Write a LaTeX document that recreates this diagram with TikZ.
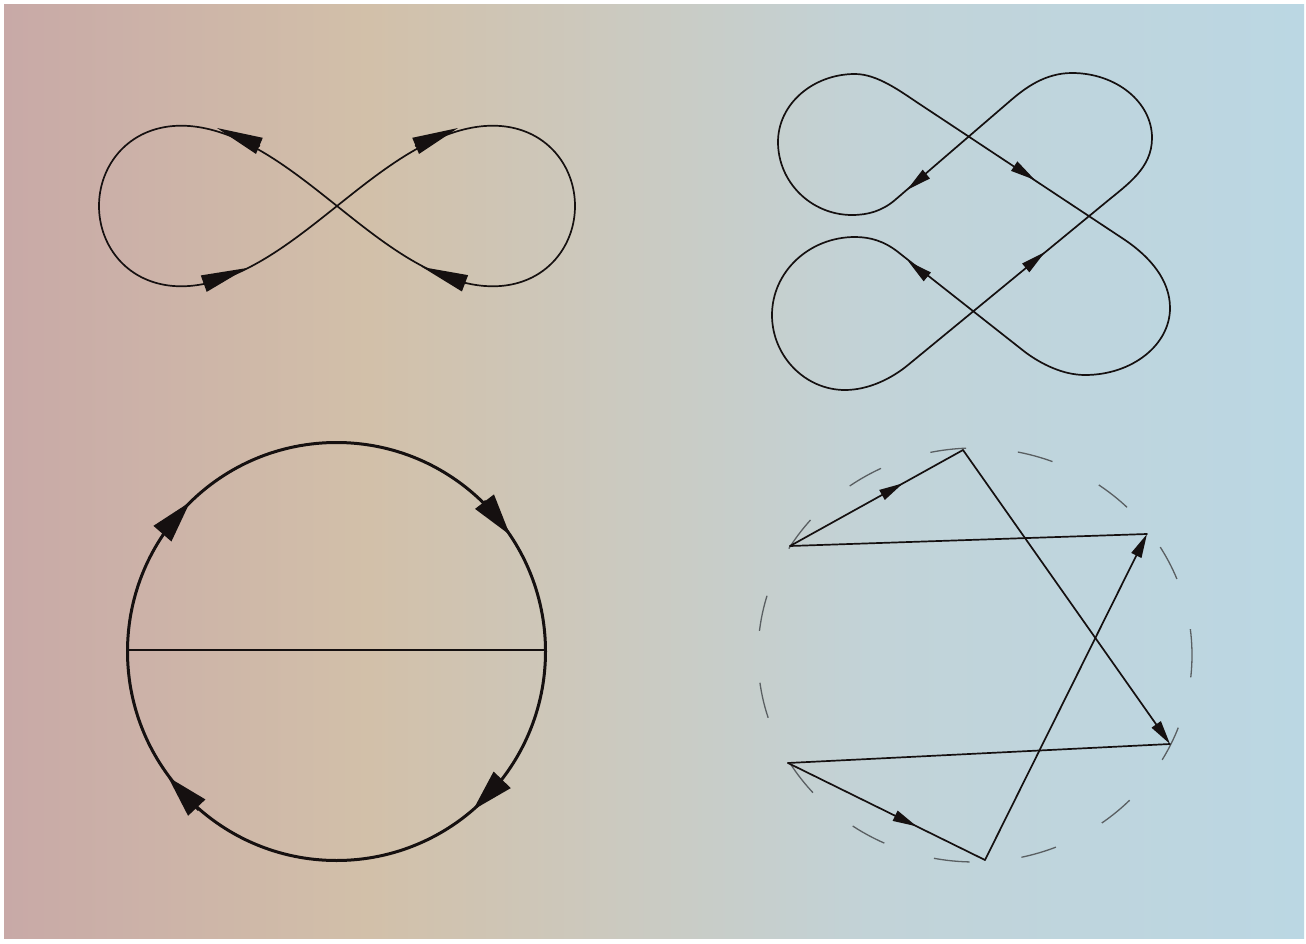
\documentclass[tikz,border=0pt]{standalone}
\usetikzlibrary{arrows.meta,decorations.markings}
\definecolor{bgA}{HTML}{C8A9A7}
\definecolor{bgB}{HTML}{D2C0A9}
\definecolor{bgC}{HTML}{CCC9BE}
\definecolor{bgD}{HTML}{C2D3D8}
\definecolor{bgE}{HTML}{BBD7E3}
\definecolor{ink}{HTML}{151010}
\definecolor{dashgray}{HTML}{5A5F62}
\pgfdeclarehorizontalshading{bgshade}{100bp}{color(0bp)=(bgA); color(25bp)=(bgA); color(39bp)=(bgB); color(48bp)=(bgC); color(58.5bp)=(bgD); color(75bp)=(bgE); color(100bp)=(bgE)}
\begin{document}
\begin{tikzpicture}[x=1pt,y=-1pt,
  curve/.style={draw=ink, line width=1.7pt, line join=round},
  wedgeL/.style={-{Triangle[length=46pt,width=17pt]}, draw=ink, fill=ink, line width=1.7pt},
  wedgeA/.style={-{Triangle[length=25pt,width=11pt]}, draw=ink, fill=ink, line width=1.6pt},
  bigtri/.style={-{Triangle[length=42pt,width=23pt]}, draw=ink, fill=ink, line width=3pt},
  polyline/.style={draw=ink, line width=1.7pt, line cap=round},
  endarr/.style={polyline, -{Triangle[length=24pt,width=11pt]}},
  midarr/.style={polyline, postaction={decorate}, decoration={markings, mark=at position 0.653 with {\arrow[ink]{Triangle[length=24pt,width=11pt]}}}}
]
\useasboundingbox (0,0) rectangle (1306,944);
\fill[white] (0,0) rectangle (1306,944);
\shade[shading=bgshade] (4,5) rectangle (1304,938);

% ---------- Figure 1: figure-eight ----------
\draw[curve]
  plot[domain=0:360, samples=361, variable=\t]
  ({337+238*cos(\t)/(1+0.4*sin(\t)*sin(\t))}, {206+190*sin(\t)*cos(\t)/(1+0.4*sin(\t)*sin(\t))});
\coordinate (e1b) at (259.9,146.1); \coordinate (e1t) at (217,128);
\coordinate (e2b) at (203.3,283.8); \coordinate (e2t) at (247,268);
\coordinate (e3b) at (415.1,146.1); \coordinate (e3t) at (458,128);
\coordinate (e4b) at (465.5,283.5); \coordinate (e4t) at (422,267);
\draw[wedgeL] (e1b) -- (e1t);
\draw[wedgeL] (e2b) -- (e2t);
\draw[wedgeL] (e3b) -- (e3t);
\draw[wedgeL] (e4b) -- (e4t);

% ---------- Figure 2: four-lobed closed curve ----------
\coordinate (p1) at (918,103);  \coordinate (p2) at (1125,240);
\coordinate (p3) at (1025,352); \coordinate (p4) at (898,252);
\coordinate (p5) at (908,365);  \coordinate (p6) at (1105,203);
\coordinate (p7) at (1010,101); \coordinate (p8) at (895,200);
\draw[curve]
  (p1) -- (p2)
  .. controls (1150,257) and (1170,280) .. (1170,308)
  .. controls (1170,345) and (1132,375) .. (1085,375)
  .. controls (1063,375) and (1041,364) .. (p3)
  -- (p4)
  .. controls (884,241) and (870,237) .. (855,237)
  .. controls (809,237) and (772,272) .. (772,315)
  .. controls (772,356) and (805,390) .. (845,390)
  .. controls (868,390) and (891,379) .. (p5)
  -- (p6)
  .. controls (1128,184) and (1152,168) .. (1152,138)
  .. controls (1152,102) and (1116,73) .. (1072,73)
  .. controls (1045,73) and (1025,88) .. (p7)
  -- (p8)
  .. controls (882,211) and (868,215) .. (852,215)
  .. controls (811,215) and (778,182) .. (778,142)
  .. controls (778,104) and (813,74) .. (855,74)
  .. controls (877,74) and (900,91) .. (p1) -- cycle;
\coordinate (s1b) at (1017,168); \coordinate (s1t) at (1035,180);
\coordinate (s2b) at (924,176);  \coordinate (s2t) at (907,190);
\coordinate (s3b) at (925,275);  \coordinate (s3t) at (908,261);
\coordinate (s4b) at (1028,266); \coordinate (s4t) at (1045,252);
\draw[wedgeA] (s1b) -- (s1t);
\draw[wedgeA] (s2b) -- (s2t);
\draw[wedgeA] (s3b) -- (s3t);
\draw[wedgeA] (s4b) -- (s4t);

% ---------- Figure 3: circle with diameter ----------
\coordinate (c3) at (336.5,651.5);
\coordinate (c3l) at (127.5,650);
\coordinate (c3r) at (545.5,650);
\draw[draw=ink, line width=3pt] (c3) circle[radius=209pt];
\draw[draw=ink, line width=1.1pt] (c3l) -- (c3r);
\coordinate (a1b) at (163,533); \coordinate (a1t) at (190,502);
\coordinate (a2b) at (484,501); \coordinate (a2t) at (510,535);
\coordinate (a3b) at (502,780); \coordinate (a3t) at (473,810);
\coordinate (a4b) at (199,810); \coordinate (a4t) at (168,777);
\draw[bigtri] (a1b) -- (a1t);
\draw[bigtri] (a2b) -- (a2t);
\draw[bigtri] (a3b) -- (a3t);
\draw[bigtri] (a4b) -- (a4t);

% ---------- Figure 4: star polygon in dashed circle ----------
\draw[dashgray, line width=1.3pt, dash pattern=on 36pt off 52pt, dash phase=10pt]
  (975,655) ellipse[x radius=217pt, y radius=207pt];
\coordinate (A) at (963,450);
\coordinate (B) at (790,546);
\coordinate (C) at (1147,534);
\coordinate (D) at (1170,744);
\coordinate (E) at (788,763);
\coordinate (F) at (985,860);
\draw[midarr] (B) -- (A);
\draw[endarr] (A) -- (D);
\draw[polyline] (D) -- (E);
\draw[midarr] (E) -- (F);
\draw[endarr] (F) -- (C);
\draw[polyline] (C) -- (B);
\end{tikzpicture}
\end{document}
